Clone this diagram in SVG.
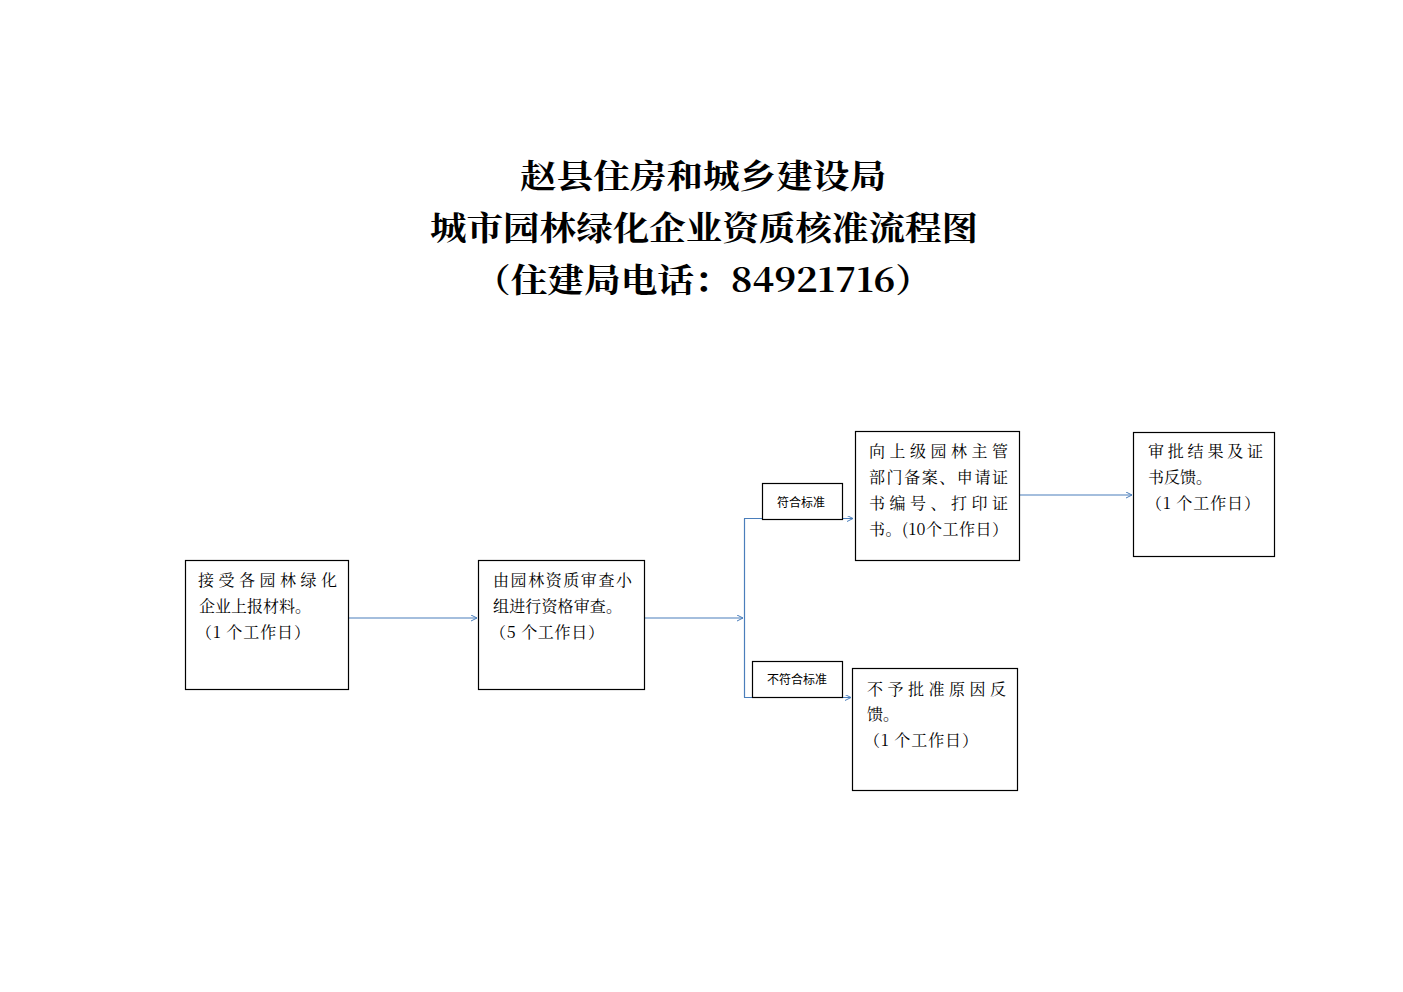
<svg xmlns="http://www.w3.org/2000/svg" width="1403" height="992" viewBox="0 0 1403 992">
<style>
.title{font-family:"Noto Serif CJK SC","Noto Sans CJK SC","Liberation Serif",serif;font-size:33px;font-weight:bold;fill:#000;text-anchor:middle}
.box{fill:#fff;stroke:#000;stroke-width:1.2}
.t{font-family:"Noto Serif CJK SC","Noto Sans CJK SC","Liberation Serif",serif;font-size:16px;fill:#000}
.lbl{font-family:"Noto Sans CJK SC","Liberation Sans",sans-serif;font-size:12px;fill:#000;text-anchor:middle}
.c{fill:none;stroke:#4a7ebb;stroke-width:1.2}
</style>
<defs>
<marker id="arr" markerWidth="8" markerHeight="8" refX="6" refY="3" orient="auto" markerUnits="userSpaceOnUse">
<path d="M0,0 L6,3 L0,6" fill="none" stroke="#4a7ebb" stroke-width="1"/>
</marker>
</defs>
<rect width="1403" height="992" fill="#fff"/>
<g id="title">
<text class="title" x="703" y="188" textLength="366" lengthAdjust="spacingAndGlyphs">赵县住房和城乡建设局</text>
<text class="title" x="704" y="240" textLength="548" lengthAdjust="spacingAndGlyphs">城市园林绿化企业资质核准流程图</text>
<text class="title" x="703" y="292" textLength="458" lengthAdjust="spacingAndGlyphs">（住建局电话：84921716）</text>
</g>
<g id="connectors">
<path class="c" d="M348,618 H477" marker-end="url(#arr)"/>
<path class="c" d="M644,618 H743" marker-end="url(#arr)"/>
<path class="c" d="M744.5,518.5 V697.5"/>
<path class="c" d="M744,518.5 H853" marker-end="url(#arr)"/>
<path class="c" d="M744,697.5 H851" marker-end="url(#arr)"/>
<path class="c" d="M1019,495 H1132" marker-end="url(#arr)"/>
</g>
<g id="n1">
<rect class="box" x="185.5" y="560.5" width="163" height="129"/>
<text class="t" x="198" y="586" textLength="139" lengthAdjust="spacing">接受各园林绿化</text>
<text class="t" x="199" y="612" textLength="112" lengthAdjust="spacing">企业上报材料。</text>
<text class="t" x="196" y="638" textLength="114" lengthAdjust="spacing">（1 个工作日）</text>
</g>
<g id="n2">
<rect class="box" x="478.5" y="560.5" width="166" height="129"/>
<text class="t" x="493" y="586" textLength="139" lengthAdjust="spacing">由园林资质审查小</text>
<text class="t" x="493" y="612" textLength="129" lengthAdjust="spacing">组进行资格审查。</text>
<text class="t" x="490" y="638" textLength="114" lengthAdjust="spacing">（5 个工作日）</text>
</g>
<g id="n3">
<rect class="box" x="855.5" y="431.5" width="164" height="129"/>
<text class="t" x="869" y="457" textLength="139" lengthAdjust="spacing">向上级园林主管</text>
<text class="t" x="869" y="483" textLength="139" lengthAdjust="spacing">部门备案、申请证</text>
<text class="t" x="869" y="509" textLength="139" lengthAdjust="spacing">书编号、打印证</text>
<text class="t" x="869" y="535" textLength="139" lengthAdjust="spacing">书。(10个工作日）</text>
</g>
<g id="n4">
<rect class="box" x="1133.5" y="432.5" width="141" height="124"/>
<text class="t" x="1148" y="457" textLength="115" lengthAdjust="spacing">审批结果及证</text>
<text class="t" x="1148" y="483">书反馈。</text>
<text class="t" x="1146" y="509" textLength="114" lengthAdjust="spacing">（1 个工作日）</text>
</g>
<g id="n5">
<rect class="box" x="852.5" y="668.5" width="165" height="122"/>
<text class="t" x="867" y="695" textLength="139" lengthAdjust="spacing">不予批准原因反</text>
<text class="t" x="867" y="720">馈。</text>
<text class="t" x="864" y="746" textLength="114" lengthAdjust="spacing">（1 个工作日）</text>
</g>
<g id="l1">
<rect class="box" x="762.5" y="483.5" width="80" height="36"/>
<text class="lbl" x="801" y="507">符合标准</text>
</g>
<g id="l2">
<rect class="box" x="752.5" y="661.5" width="90" height="36"/>
<text class="lbl" x="797" y="684">不符合标准</text>
</g>
</svg>
